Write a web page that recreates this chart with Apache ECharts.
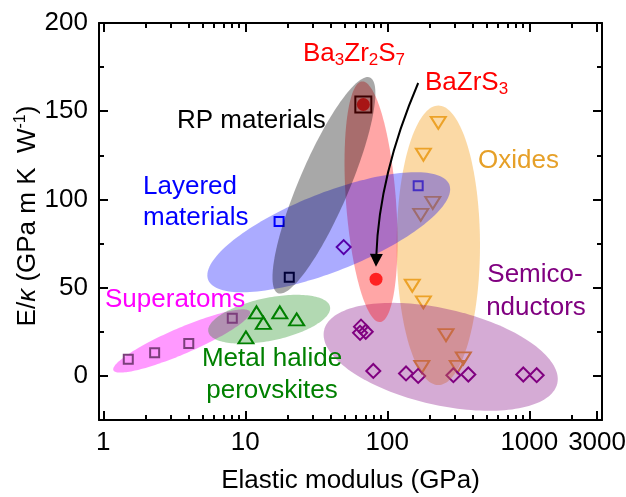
<!DOCTYPE html>
<html><head><meta charset="utf-8">
<script src="https://cdn.jsdelivr.net/npm/echarts@6/dist/echarts.min.js"></script>
<style>html,body{margin:0;padding:0;background:#fff}#c{width:626px;height:497px}</style>
</head><body><div id="c"></div>
<script>
const FONT = '"Liberation Sans", Arial, Helvetica, sans-serif';
// ---- ticks ----
const xTickLabels = [1, 10, 100, 1000, 3000];
const xMinorTicks = [2,3,4,5,6,7,8,9,20,30,40,50,60,70,80,90,200,300,400,500,600,700,800,900,2000];
const yTickLabels = [0, 50, 100, 150, 200];
const yMinorTicks = [25, 75, 125, 175];
const xRange = [0.933, 3250];
const yRange = [-25, 200];
// ---- data: elastic modulus (GPa) and E/kappa ----
const superatomsE = [1.5, 2.3, 4.0, 8.1];
const superatomsY = [9.5, 13.1, 18.4, 32.6];
const halideE = [10.1, 12.0, 13.4, 17.5, 23.0];
const halideY = [21.8, 36.0, 30.1, 36.0, 32.0];
const layeredE = [17.3, 165];
const layeredY = [87.5, 107.8];
const rpE = [20.4];
const rpY = [55.9];
const oxidesE = [228.6, 179.5, 209, 172, 150, 179.5, 259, 343, 311, 175];
const oxidesY = [143.4, 125.4, 98, 91.3, 51.1, 41.7, 23.1, 9.9, 5.1, 5.1];
const semiE = [49.3, 65.3, 70.5, 64.3, 79.7, 135.5, 165, 292, 372, 907, 1127];
const semiY = [73, 27.9, 25, 24.4, 2.8, 1.4, 0, 0.4, 0.8, 0.8, 0.4];
const ba3zr2s7 = [67.8, 153.8];
const bazrs3 = [83.3, 54.8];
// ---- shaded regions (in data units: centre, end of long axis, end of short axis) ----
const regionNames = ['Oxides','Semiconductors','Ba-Zr-S','Superatoms','Metal halide perovskites','Layered materials','RP materials'];
const regionCenters = [[228.7,74.0],[237.7,10.8],[76.8,98.7],[3.565,19.8],[14.73,32.1],[38.7,81.4],[35.8,108.0]];
const regionMajorTips = [[228.7,153.2],[1574,-4.3],[66.3,166.9],[10.79,36.4],[39.5,39.2],[273.3,108.4],[75.5,169.1]];
const regionMinorTips = [[449.5,74.0],[199.9,-15.8],[115,99.8],[3.87,13.0],[15.8,20.2],[48.8,60.7],[52.0,102.4]];
const regionFill = ['rgba(245,165,40,0.42)','rgba(128,0,128,0.33)','rgba(255,0,0,0.35)','rgba(255,0,255,0.4)','rgba(0,128,0,0.3)','rgba(0,0,255,0.33)','rgba(0,0,0,0.34)'];
// ---- arrow (start, control, tip) ----
const arrowPath = [[165,166],[87.4,114],[83.2,61.8]];

const lg = Math.log10;
const pts = (E, Y) => E.map((e, i) => [lg(e), Y[i]]);
const axisLineStyle = {color:'#000', width:2};

function xAx(grid, pos, ticks, len, main) {
  return {
    type:'value', gridIndex:grid, position:pos, min:lg(xRange[0]), max:lg(xRange[1]),
    splitLine:{show:false}, z:10,
    axisLine:{show:main, onZero:false, lineStyle:axisLineStyle},
    axisTick:{show:true, inside:true, length:len, customValues:ticks.map(lg), lineStyle:{color:'#000', width:2}},
    axisLabel:(main && pos==='bottom') ? {show:true, customValues:xTickLabels.map(lg), margin:10, color:'#000', fontSize:26, fontFamily:FONT,
      formatter:v => String(Math.round(Math.pow(10, v)))} : {show:false},
    name:(main && pos==='bottom') ? 'Elastic modulus (GPa)' : '',
    nameLocation:'middle', nameGap:48,
    nameTextStyle:{color:'#000', fontSize:26, fontFamily:FONT}
  };
}
function yAx(grid, pos, ticks, len, main) {
  return {
    type:'value', gridIndex:grid, position:pos, min:yRange[0], max:yRange[1],
    splitLine:{show:false}, z:10,
    axisLine:{show:main, onZero:false, lineStyle:axisLineStyle},
    axisTick:{show:true, inside:true, length:len, customValues:ticks, lineStyle:{color:'#000', width:2}},
    axisLabel:(main && pos==='left') ? {show:true, customValues:yTickLabels, margin:11, color:'#000', fontSize:26, fontFamily:FONT} : {show:false}
  };
}

const chart = echarts.init(document.getElementById('c'), null, {renderer:'canvas'});
const gridRect = {left:99, right:24, top:23, bottom:77, outerBoundsMode:'none'};

function scat(name, data, symbol, size, color, extra) {
  return Object.assign({
    name, type:'scatter', xAxisIndex:0, yAxisIndex:0, data, symbol, symbolSize:size, z:1,
    itemStyle:{color:'rgba(0,0,0,0)', borderColor:color, borderWidth:2, opacity:1},
    emphasis:{disabled:true}, silent:true, animation:false
  }, extra || {});
}

const option = {
  backgroundColor:'#fff',
  animation:false,
  grid:[Object.assign({}, gridRect), Object.assign({}, gridRect)],
  xAxis:[xAx(0,'bottom',xTickLabels,9,true), xAx(0,'top',xTickLabels,9,true),
         xAx(1,'bottom',xMinorTicks,5,false), xAx(1,'top',xMinorTicks,5,false)],
  yAxis:[yAx(0,'left',yTickLabels,9,true), yAx(0,'right',yTickLabels,9,true),
         yAx(1,'left',yMinorTicks,5,false), yAx(1,'right',yMinorTicks,5,false)],
  series:[
    scat('Layered', pts(layeredE, layeredY), 'rect', 9, '#0000ff'),
    scat('RP', pts(rpE, rpY), 'rect', 9, '#000000'),
    scat('Halide', pts(halideE, halideY), 'triangle', [15,12], '#008000'),
    scat('Oxides', pts(oxidesE, oxidesY), 'triangle', [15,12], '#e6a028', {symbolRotate:180}),
    scat('Semi', pts(semiE, semiY), 'diamond', 14, '#800080'),
    scat('Ba3Zr2S7 box', [[lg(ba3zr2s7[0]), ba3zr2s7[1]]], 'rect', 16, '#000000'),
    {name:'BaZrS', type:'scatter', xAxisIndex:0, yAxisIndex:0, symbol:'circle', symbolSize:13, z:1,
     data:[[lg(ba3zr2s7[0]), ba3zr2s7[1]],[lg(bazrs3[0]), bazrs3[1]]],
     itemStyle:{color:'#ff0000'}, emphasis:{disabled:true}, silent:true, animation:false},
    {name:'regions', type:'custom', xAxisIndex:0, yAxisIndex:0, silent:true, animation:false, z:3,
     data:regionCenters.map(c => [lg(c[0]), c[1]]),
     renderItem:function(params, api){
       const i = params.dataIndex;
       const c = api.coord([lg(regionCenters[i][0]), regionCenters[i][1]]);
       const p1 = api.coord([lg(regionMajorTips[i][0]), regionMajorTips[i][1]]);
       const p2 = api.coord([lg(regionMinorTips[i][0]), regionMinorTips[i][1]]);
       const ax = p1[0]-c[0], ay = p1[1]-c[1], bx = p2[0]-c[0], by = p2[1]-c[1];
       const poly = [];
       for (let k = 0; k < 160; k++) {
         const t = k / 160 * 2 * Math.PI;
         poly.push([c[0] + Math.cos(t)*ax + Math.sin(t)*bx, c[1] + Math.cos(t)*ay + Math.sin(t)*by]);
       }
       return {type:'polygon', z2:i, shape:{points:poly}, style:{fill:regionFill[i], stroke:null}};
     }},
    scat('Superatoms', pts(superatomsE, superatomsY), 'rect', 9, '#7c3e7c', {z:5}),
    {name:'arrow', type:'custom', xAxisIndex:0, yAxisIndex:0, silent:true, animation:false, z:6,
     data:[[lg(arrowPath[2][0]), arrowPath[2][1]]],
     renderItem:function(params, api){
       const p0 = api.coord([lg(arrowPath[0][0]), arrowPath[0][1]]);
       const pc = api.coord([lg(arrowPath[1][0]), arrowPath[1][1]]);
       const pt = api.coord([lg(arrowPath[2][0]), arrowPath[2][1]]);
       let dx = pt[0]-pc[0], dy = pt[1]-pc[1];
       const L = Math.hypot(dx, dy); dx /= L; dy /= L;
       const hl = 13, hw = 6.5;
       const base = [pt[0]-dx*hl, pt[1]-dy*hl];
       return {type:'group', children:[
         {type:'bezierCurve', shape:{x1:p0[0], y1:p0[1], x2:base[0]+dx*2, y2:base[1]+dy*2, cpx1:pc[0], cpy1:pc[1]},
          style:{stroke:'#000', lineWidth:2, fill:null}},
         {type:'polygon', shape:{points:[pt, [base[0]-dy*hw, base[1]+dx*hw], [base[0]+dy*hw, base[1]-dx*hw]]},
          style:{fill:'#000'}}
       ]};
     }}
  ],
  graphic:[]
};

function txt(text, x, y, color, align) {
  return {type:'text', x, y, z:100, silent:true,
    style:{text, fill:color, fontSize:26, fontFamily:FONT, align:align||'left', verticalAlign:'middle'}};
}
const subRich = (color) => ({
  n:{fill:color, color:color, fontSize:26, fontFamily:FONT, lineHeight:28, verticalAlign:'top'},
  s:{fill:color, color:color, fontSize:17, fontFamily:FONT, lineHeight:18, padding:[11,0,0,0], verticalAlign:'bottom'}
});
option.graphic = [
  {type:'text', x:303, y:55, z:100, silent:true,
   style:{text:'{n|Ba}{s|3}{n|Zr}{s|2}{n|S}{s|7}', rich:subRich('#ff0000'), fill:'#ff0000', fontSize:26, fontFamily:FONT, align:'left', verticalAlign:'middle'}},
  {type:'text', x:425, y:84, z:100, silent:true,
   style:{text:'{n|BaZrS}{s|3}', rich:subRich('#ff0000'), fill:'#ff0000', fontSize:26, fontFamily:FONT, align:'left', verticalAlign:'middle'}},
  txt('RP materials', 177, 121, '#000000'),
  txt('Layered', 143, 187, '#0000ff'),
  txt('materials', 143, 218, '#0000ff'),
  txt('Oxides', 478, 161, '#e6a028'),
  txt('Semico-', 535, 275, '#800080', 'center'),
  txt('nductors', 536, 308, '#800080', 'center'),
  txt('Superatoms', 105, 300, '#ff00ff'),
  txt('Metal halide', 272, 359, '#008000', 'center'),
  txt('perovskites', 272, 391, '#008000', 'center'),
  {type:'text', x:27, y:216, rotation:Math.PI/2, z:100, silent:true,
   style:{text:'{n|E/}{k|κ}{n| (GPa m K  W}{p|-1}{n|)}', align:'center', verticalAlign:'middle',
     fill:'#000', fontSize:26, fontFamily:FONT,
     rich:{n:{fill:'#000', color:'#000', fontSize:26, fontFamily:FONT, lineHeight:28, verticalAlign:'bottom'},
           k:{fill:'#000', color:'#000', fontSize:26, fontFamily:FONT, fontStyle:'italic', lineHeight:28, verticalAlign:'bottom'},
           p:{fill:'#000', color:'#000', fontSize:16, fontFamily:FONT, lineHeight:16, verticalAlign:'top'}}}}
];
chart.setOption(option);
</script></body></html>
